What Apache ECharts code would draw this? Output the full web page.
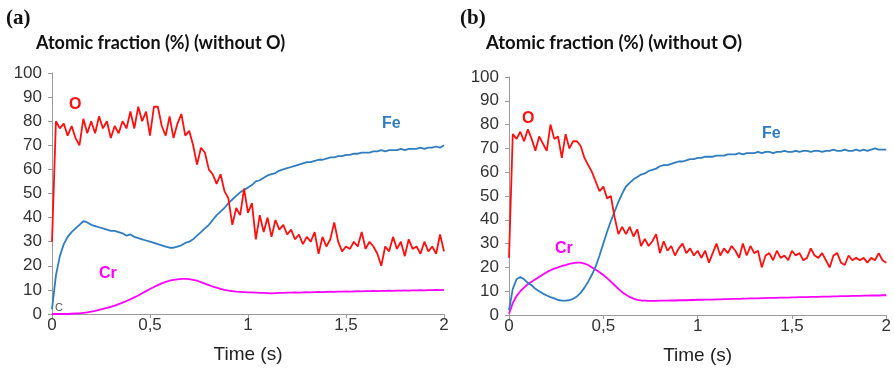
<!DOCTYPE html>
<html>
<head>
<meta charset="utf-8">
<script src="https://cdn.jsdelivr.net/npm/echarts@6/dist/echarts.min.js"></script>
<style>
  html, body { margin: 0; padding: 0; background: #fff; }
  #chart { width: 894px; height: 373px; }
</style>
</head>
<body>
<div id="chart"></div>
<script>
// sampling step of the traces (s)
var step = 0.02
var xTicks = [0, 0.5, 1, 1.5, 2]

// panel (a)
var oA = [30, 80, 77, 79, 74, 78, 73, 70, 81, 75,
  80, 75, 82, 77, 80, 73, 78, 75, 80, 77,
  84, 77, 86, 80, 84, 74, 86, 86, 78, 74,
  82, 73, 79, 83, 74, 76, 70, 62, 69, 67,
  60, 58, 54, 58, 51, 48, 37, 44, 41, 52,
  42, 46, 31, 41, 34, 40, 32, 39, 35, 37,
  33, 35, 31, 33, 29, 32, 30, 34, 25, 32,
  28, 31, 38, 30, 26, 28, 27, 30, 28, 34,
  27, 30, 28, 25, 20, 28, 26, 32, 27, 30,
  24, 31, 27, 28, 25, 30, 26, 28, 25, 33, 26]
var feA = [2, 16, 24, 29, 32, 34, 35.5, 37, 38.5, 38,
  37, 36.5, 36, 35.5, 35, 34.5, 34.5, 34, 33.5, 32.5,
  33, 32, 31.5, 31, 30.5, 30, 29.5, 29, 28.5, 28,
  27.5, 27.5, 28, 28.5, 29.5, 30, 31, 32.5, 34, 35.5,
  37, 39, 41, 42.5, 44, 46, 47.5, 49, 50.5, 51.5,
  52.5, 53.5, 55, 55.5, 56.5, 57.5, 58, 58.5, 59.5, 60,
  60.5, 61, 61.5, 62, 62.5, 63, 63, 63.5, 64, 64,
  64.5, 65, 65, 65.5, 65.5, 66, 66, 66.5, 66.5, 67,
  67, 67, 67.5, 67.5, 68, 67.5, 68, 68, 68, 68.5,
  68, 68.5, 68.5, 68.5, 69, 68.5, 69, 69, 69.5, 69, 70]
var crA = [0, 0, 0, 0, 0, 0.1, 0.2, 0.3, 0.5, 0.7,
  1, 1.3, 1.7, 2.1, 2.5, 3, 3.5, 4.1, 4.7, 5.4,
  6.1, 6.9, 7.7, 8.6, 9.5, 10.4, 11.2, 12, 12.7, 13.3,
  13.8, 14.2, 14.4, 14.6, 14.6, 14.5, 14.2, 13.8, 13.2, 12.6,
  12, 11.4, 10.9, 10.4, 10, 9.7, 9.5, 9.3, 9.2, 9.1,
  9, 9, 8.9, 8.8, 8.8, 8.7, 8.6, 8.7, 8.8, 8.8,
  8.9, 8.9, 9, 8.9, 9, 9.1, 9, 9.1, 9.2, 9.1,
  9.2, 9.3, 9.2, 9.3, 9.3, 9.4, 9.3, 9.4, 9.5, 9.4,
  9.5, 9.5, 9.6, 9.5, 9.6, 9.6, 9.7, 9.6, 9.7, 9.7,
  9.8, 9.7, 9.8, 9.8, 9.9, 9.8, 9.9, 9.9, 10, 9.9, 10]

// panel (b)
var oB = [24, 76, 74, 77, 73, 78, 74, 69, 75, 72,
  69, 80, 74, 75, 66, 76, 70, 73, 73, 71,
  66, 63, 60, 56, 52, 54, 49, 50, 41, 34,
  37, 34, 37, 33, 36, 29, 32, 29, 31, 34,
  26, 31, 27, 29, 25, 28, 30, 26, 28, 25,
  27, 24, 27, 22, 26, 30, 25, 28, 26, 29,
  27, 24, 30, 25, 29, 26, 27, 20, 25, 26,
  23, 27, 24, 25, 23, 27, 25, 26, 23, 24,
  28, 25, 24, 26, 23, 20, 25, 26, 22, 21,
  25, 23, 24, 23, 24, 22, 24, 23, 26, 23, 22]
var feB = [2, 11, 15, 16, 15, 13.5, 12.5, 11, 10, 9,
  8.2, 7.5, 7, 6.3, 6, 6, 6.2, 6.8, 7.8, 9.3,
  11.5, 14, 17, 20.5, 25, 30, 35, 39.5, 43.5, 47.5,
  51, 54, 55.5, 57, 58, 59, 59.5, 60.5, 61, 61.5,
  62.5, 63, 63, 63.5, 64, 64.5, 64.5, 65, 65.5, 65.5,
  66, 66, 66.5, 66.5, 66.5, 67, 67, 67, 67.5, 67.5,
  67.5, 68, 67.5, 68, 68, 68, 68.5, 68, 68.5, 68.5,
  68, 68.5, 68.5, 69, 68.5, 68.5, 69, 68.5, 69, 69,
  68.5, 69, 69, 68.5, 69, 69, 69.5, 69, 69, 69.5,
  69, 69, 69.5, 69, 69.5, 69, 69.5, 70, 69.5, 69.5, 69.5]
var crB = [0.5, 5, 8, 10, 11.5, 13, 14, 15, 16, 17,
  18, 18.8, 19.5, 20, 20.6, 21, 21.5, 21.8, 22, 22,
  21.6, 21, 20, 19, 18, 16.8, 15.5, 14, 12.5, 11,
  9.6, 8.5, 7.6, 6.9, 6.4, 6.1, 6, 5.9, 5.9, 5.9,
  6, 6, 6, 6.1, 6.1, 6.2, 6.2, 6.2, 6.3, 6.3,
  6.4, 6.4, 6.5, 6.5, 6.5, 6.6, 6.6, 6.7, 6.7, 6.8,
  6.8, 6.8, 6.9, 6.9, 7, 7, 7, 7.1, 7.1, 7.2,
  7.2, 7.2, 7.3, 7.3, 7.3, 7.4, 7.4, 7.5, 7.5, 7.5,
  7.6, 7.6, 7.6, 7.7, 7.7, 7.7, 7.8, 7.8, 7.9, 7.9,
  7.9, 8, 8, 8, 8.1, 8.1, 8.2, 8.2, 8.2, 8.3, 8.3]

var RED = '#ff1010'
var BLUE = '#2f7dc0'
var MAGENTA = '#ff00ff'

function pairs(vals) {
  return vals.map(function(v, i) { return [+(i * step).toFixed(2), v] })
}

function xAxisFor(gridIndex) {
  return {
    type: 'value', gridIndex: gridIndex, min: 0, max: 2, interval: 0.5,
    name: 'Time (s)', nameLocation: 'middle', nameGap: 31,
    nameTextStyle: { fontFamily: 'Liberation Sans', fontSize: 19, color: '#222' },
    axisLine: { lineStyle: { color: '#9a9a9a' } },
    axisTick: { length: 4, lineStyle: { color: '#9a9a9a' } },
    axisLabel: {
      margin: 3, fontFamily: 'Liberation Sans', fontSize: 17, color: '#333',
      formatter: function(v) { return String(v).replace('.', ',') }
    },
    splitLine: { show: false }
  }
}

function yAxisFor(gridIndex) {
  return {
    type: 'value', gridIndex: gridIndex, min: 0, max: 100, interval: 10,
    axisLine: { show: true, lineStyle: { color: '#9a9a9a' } },
    axisTick: { show: true, length: 4, lineStyle: { color: '#9a9a9a' } },
    axisLabel: { margin: 10, fontFamily: 'Liberation Sans', fontSize: 17, color: '#333' },
    splitLine: { show: false }
  }
}

function line(name, vals, color, idx, z) {
  return {
    name: name, type: 'line', xAxisIndex: idx, yAxisIndex: idx,
    data: pairs(vals), showSymbol: false, symbol: 'none', z: z,
    lineStyle: { color: color, width: 1.8 }, animation: false
  }
}

function txt(x, y, s, color, font) {
  return { type: 'text', left: x, top: y, style: { text: s, fill: color, font: font } }
}

var chart = echarts.init(document.getElementById('chart'))
chart.setOption({
  animation: false,
  grid: [
    { left: 52, top: 73, width: 392, height: 241 },
    { left: 509, top: 77, width: 378, height: 238 }
  ],
  xAxis: [xAxisFor(0), xAxisFor(1)],
  yAxis: [yAxisFor(0), yAxisFor(1)],
  series: [
    line('Cr', crA, MAGENTA, 0, 2),
    line('Fe', feA, BLUE, 0, 3),
    line('O', oA, RED, 0, 4),
    line('Cr', crB, MAGENTA, 1, 2),
    line('Fe', feB, BLUE, 1, 3),
    line('O', oB, RED, 1, 4)
  ],
  graphic: [
    txt(6, 8, '(a)', '#111', 'bold 21px "Liberation Serif"'),
    txt(460, 8, '(b)', '#111', 'bold 21px "Liberation Serif"'),
    txt(36, 34, 'Atomic fraction (%) (without O)', '#111', 'bold 18px Lato'),
    txt(486, 34, 'Atomic fraction (%) (without O)', '#111', 'bold 18.5px Lato'),
    txt(69, 97, 'O', RED, 'bold 16px "Liberation Sans"'),
    txt(382, 116, 'Fe', BLUE, 'bold 16px "Liberation Sans"'),
    txt(99, 266, 'Cr', MAGENTA, 'bold 16px "Liberation Sans"'),
    txt(55, 302, 'C', '#555', '11px "Liberation Sans"'),
    txt(522, 111, 'O', RED, 'bold 16px "Liberation Sans"'),
    txt(555, 241, 'Cr', MAGENTA, 'bold 16px "Liberation Sans"'),
    txt(762, 126, 'Fe', BLUE, 'bold 16px "Liberation Sans"')
  ]
})
</script>
</body>
</html>
